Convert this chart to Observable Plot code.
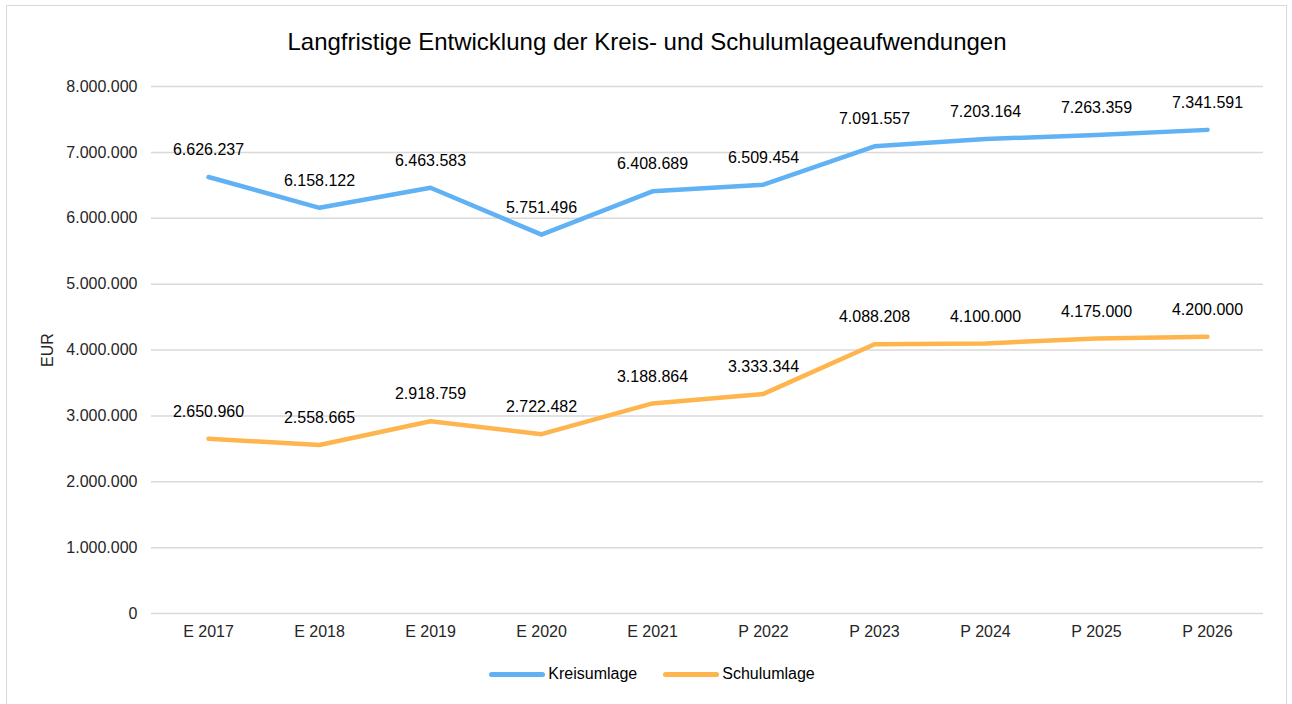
<!DOCTYPE html>
<html>
<head>
<meta charset="utf-8">
<script src="https://cdn.jsdelivr.net/npm/d3@7"></script>
<script src="https://cdn.jsdelivr.net/npm/@observablehq/plot@0.6"></script>
<style>
  html, body { margin: 0; padding: 0; background: #fff; }
  body { width: 1292px; height: 704px; overflow: hidden; position: relative; font-family: "Liberation Sans", Arial, sans-serif; }
  #frame { position: absolute; left: 6px; top: 5px; width: 1281px; height: 720px; border: 1px solid #d9d9d9; box-sizing: border-box; }
  #title { position: absolute; left: 0; top: 0; width: 1292px; height: 70px; display: flex; align-items: center; justify-content: center; padding-top: 14px; padding-left: 2px; box-sizing: border-box; font-size: 24px; color: #000; }
  #chart { position: absolute; left: 0; top: 70px; }
  #legend { position: absolute; left: 0; top: 650px; width: 1292px; height: 48px; display: flex; align-items: center; justify-content: center; padding-left: 12px; box-sizing: border-box; font-size: 16px; color: #000; }
  .item { display: flex; align-items: center; margin: 0 13px; }
  .sw { width: 56px; height: 5px; border-radius: 3px; margin-right: 3px; }
</style>
</head>
<body>
<div id="frame"></div>
<div id="title">Langfristige Entwicklung der Kreis- und Schulumlageaufwendungen</div>
<div id="chart"></div>
<div id="legend"></div>
<script>
const categories = ["E 2017", "E 2018", "E 2019", "E 2020", "E 2021", "P 2022", "P 2023", "P 2024", "P 2025", "P 2026"];
const kreisumlage = [6626237, 6158122, 6463583, 5751496, 6408689, 6509454, 7091557, 7203164, 7263359, 7341591];
const schulumlage = [2650960, 2558665, 2918759, 2722482, 3188864, 3333344, 4088208, 4100000, 4175000, 4200000];
const seriesNames = ["Kreisumlage", "Schulumlage"];
const seriesColors = ["#60b2f4", "#ffb54d"];
const yTicks = [0, 1000000, 2000000, 3000000, 4000000, 5000000, 6000000, 7000000, 8000000];

const de = d3.formatLocale({decimal: ",", thousands: ".", grouping: [3], currency: ["", " €"]});
const fmt = de.format(",d");

const data = [];
categories.forEach((c, i) => {
  data.push({cat: c, series: seriesNames[0], value: kreisumlage[i]});
  data.push({cat: c, series: seriesNames[1], value: schulumlage[i]});
});

const plot = Plot.plot({
  width: 1292,
  height: 580,
  marginLeft: 151,
  marginRight: 29,
  marginTop: 16,
  marginBottom: 37,
  style: {fontFamily: "'Liberation Sans', Arial, sans-serif", fontSize: "16px", color: "#262626", background: "transparent"},
  x: {type: "point", domain: categories, padding: 0.5},
  y: {domain: [0, 8000000]},
  color: {domain: seriesNames, range: seriesColors},
  marks: [
    Plot.ruleY(yTicks, {stroke: "#d9d9d9", strokeWidth: 1.5}),
    Plot.axisY({ticks: yTicks, tickFormat: fmt, tickSize: 0, tickPadding: 14, label: "EUR", labelArrow: "none", labelAnchor: "center", labelOffset: 110, fontSize: 16}),
    Plot.axisX({tickSize: 0, tickPadding: 12, label: null, fontSize: 16}),
    Plot.line(data, {x: "cat", y: "value", z: "series", stroke: "series", strokeWidth: 4.5, strokeLinecap: "round", strokeLinejoin: "round"}),
    Plot.text(data, {x: "cat", y: "value", text: d => fmt(d.value), dy: -27, fill: "#000", fontSize: 16})
  ]
});
document.getElementById("chart").appendChild(plot);

const legend = document.getElementById("legend");
seriesNames.forEach((n, i) => {
  const it = document.createElement("div");
  it.className = "item";
  const sw = document.createElement("div");
  sw.className = "sw";
  sw.style.background = seriesColors[i];
  const t = document.createElement("span");
  t.textContent = n;
  it.appendChild(sw);
  it.appendChild(t);
  legend.appendChild(it);
});
</script>
</body>
</html>
